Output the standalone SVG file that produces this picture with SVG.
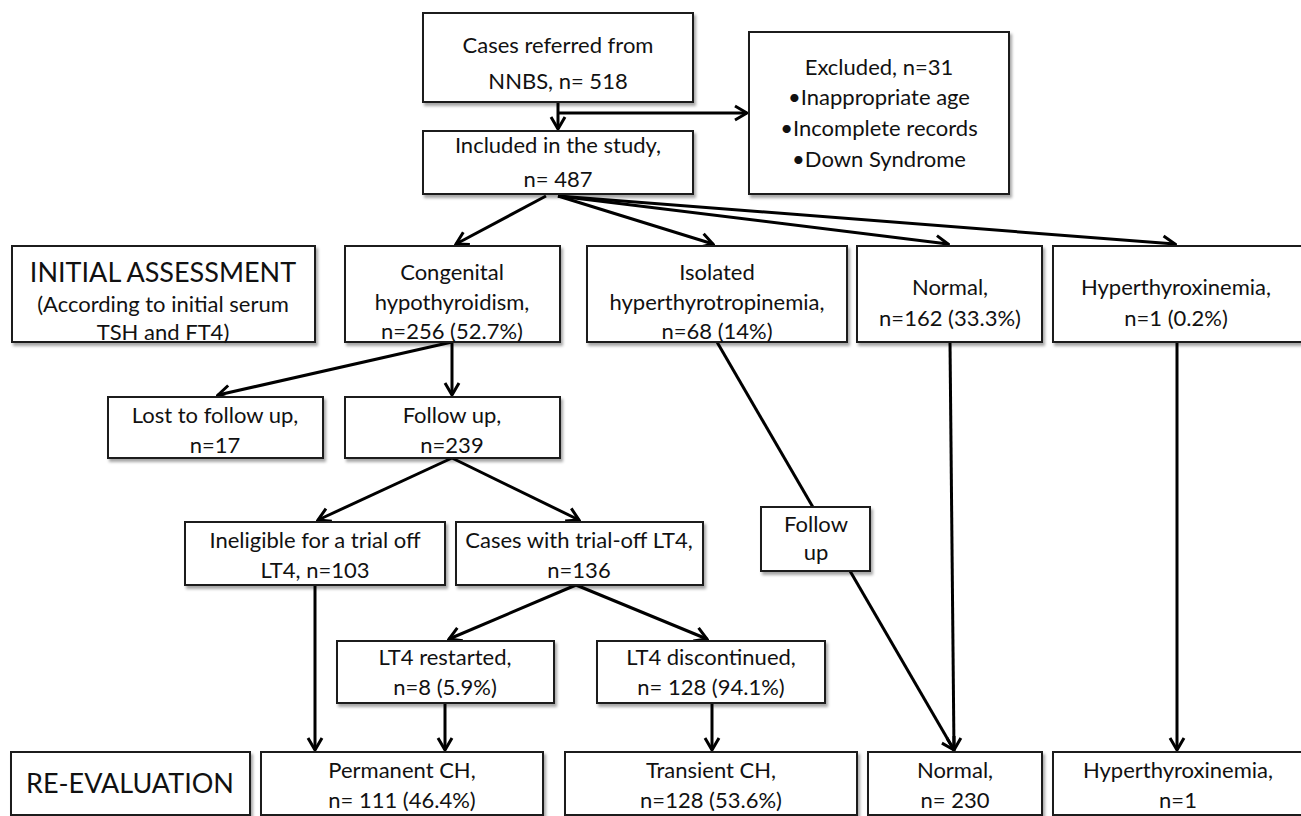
<svg xmlns="http://www.w3.org/2000/svg" width="1301" height="816" viewBox="0 0 1301 816">
<style>
.box{fill:#fff;stroke:#1a1a1a;stroke-width:2;filter:url(#sh)}
.t{font-family:Lato,"Liberation Sans",sans-serif;font-size:22px;fill:#111;text-anchor:middle}
.big{font-size:27px}
.c{fill:none;stroke:#000;stroke-width:3;marker-end:url(#ah)}
</style>
<defs>
<filter id="sh" x="-5%" y="-5%" width="115%" height="125%">
<feDropShadow dx="2" dy="3" stdDeviation="1.6" flood-color="#000" flood-opacity="0.35"/>
</filter>
<marker id="ah" viewBox="-15 -10 17 20" refX="0" refY="0" markerWidth="17" markerHeight="20" markerUnits="userSpaceOnUse" orient="auto">
<path d="M-12,-7 L0,0 L-12,7" fill="none" stroke="#000" stroke-width="3" stroke-linejoin="miter"/>
</marker>
</defs>
<g id="connectors">
<path class="c" d="M558,102 L558,129"/>
<path class="c" d="M558,113 L747,113"/>
<path class="c" d="M546,196 L456,244"/>
<path class="c" d="M558,196 L713,244"/>
<path class="c" d="M558,196 L948,244"/>
<path class="c" d="M558,196 L1175,244"/>
<path class="c" d="M452,342 L452,395"/>
<path class="c" d="M452,342 L218,395"/>
<path class="c" d="M452,458 L318,520"/>
<path class="c" d="M452,458 L579,520"/>
<path class="c" d="M576,585 L449,639"/>
<path class="c" d="M576,585 L707,639"/>
<path class="c" d="M315,586 L315,750"/>
<path class="c" d="M445,703 L445,750"/>
<path class="c" d="M712,703 L712,750"/>
<path class="c" d="M717,342 L954,750"/>
<path class="c" d="M950,342 L954,750"/>
<path class="c" d="M1177,342 L1177,750"/>
</g>
<g id="n-cases"><rect class="box" x="423" y="13" width="270" height="89"/><text class="t" x="558" y="53">Cases referred from</text><text class="t" x="558" y="89">NNBS, n= 518</text></g>
<g id="n-included"><rect class="box" x="423" y="131" width="270" height="63"/><text class="t" x="558" y="153">Included in the study,</text><text class="t" x="558" y="187">n= 487</text></g>
<g id="n-excluded"><rect class="box" x="749" y="32" width="260" height="162"/><text class="t" x="879" y="75">Excluded, n=31</text><text class="t" x="879" y="105">•Inappropriate age</text><text class="t" x="879" y="136">•Incomplete records</text><text class="t" x="879" y="167">•Down Syndrome</text></g>
<g id="n-initial"><rect class="box" x="12" y="246" width="303" height="96"/><text class="t big" x="163" y="282">INITIAL ASSESSMENT</text><text class="t" x="163" y="312">(According to initial serum</text><text class="t" x="163" y="340">TSH and FT4)</text></g>
<g id="n-congenital"><rect class="box" x="345" y="246" width="215" height="96"/><text class="t" x="452" y="280">Congenital</text><text class="t" x="452" y="310">hypothyroidism,</text><text class="t" x="452" y="339">n=256 (52.7%)</text></g>
<g id="n-isolated"><rect class="box" x="587" y="246" width="260" height="96"/><text class="t" x="717" y="280">Isolated</text><text class="t" x="717" y="310">hyperthyrotropinemia,</text><text class="t" x="717" y="339">n=68 (14%)</text></g>
<g id="n-normal1"><rect class="box" x="857" y="246" width="185" height="96"/><text class="t" x="950" y="295">Normal,</text><text class="t" x="950" y="326">n=162 (33.3%)</text></g>
<g id="n-hyper1"><rect class="box" x="1053" y="246" width="257" height="96"/><text class="t" x="1176" y="295">Hyperthyroxinemia,</text><text class="t" x="1176" y="326">n=1 (0.2%)</text></g>
<g id="n-lost"><rect class="box" x="108" y="397" width="215" height="61"/><text class="t" x="215" y="423">Lost to follow up,</text><text class="t" x="215" y="453">n=17</text></g>
<g id="n-followup"><rect class="box" x="345" y="397" width="215" height="61"/><text class="t" x="452" y="423">Follow up,</text><text class="t" x="452" y="453">n=239</text></g>
<g id="n-ineligible"><rect class="box" x="185" y="522" width="260" height="63"/><text class="t" x="315" y="548">Ineligible for a trial off</text><text class="t" x="315" y="578">LT4, n=103</text></g>
<g id="n-trialoff"><rect class="box" x="456" y="522" width="247" height="63"/><text class="t" x="579" y="548">Cases with trial-off LT4,</text><text class="t" x="579" y="578">n=136</text></g>
<g id="n-followup2"><rect class="box" x="761" y="507" width="109" height="64"/><text class="t" x="816" y="532">Follow</text><text class="t" x="816" y="560">up</text></g>
<g id="n-restarted"><rect class="box" x="337" y="641" width="217" height="62"/><text class="t" x="445" y="665">LT4 restarted,</text><text class="t" x="445" y="695">n=8 (5.9%)</text></g>
<g id="n-discontinued"><rect class="box" x="597" y="641" width="228" height="62"/><text class="t" x="711" y="665">LT4 discontinued,</text><text class="t" x="711" y="695">n= 128 (94.1%)</text></g>
<g id="n-reeval"><rect class="box" x="11" y="752" width="239" height="63"/><text class="t big" x="130" y="793">RE-EVALUATION</text></g>
<g id="n-permanent"><rect class="box" x="261" y="752" width="282" height="63"/><text class="t" x="402" y="778">Permanent CH,</text><text class="t" x="402" y="808">n= 111 (46.4%)</text></g>
<g id="n-transient"><rect class="box" x="565" y="752" width="292" height="63"/><text class="t" x="711" y="778">Transient CH,</text><text class="t" x="711" y="808">n=128 (53.6%)</text></g>
<g id="n-normal2"><rect class="box" x="868" y="752" width="174" height="63"/><text class="t" x="955" y="778">Normal,</text><text class="t" x="955" y="808">n= 230</text></g>
<g id="n-hyper2"><rect class="box" x="1053" y="752" width="257" height="63"/><text class="t" x="1178" y="778">Hyperthyroxinemia,</text><text class="t" x="1178" y="808">n=1</text></g>
</svg>
